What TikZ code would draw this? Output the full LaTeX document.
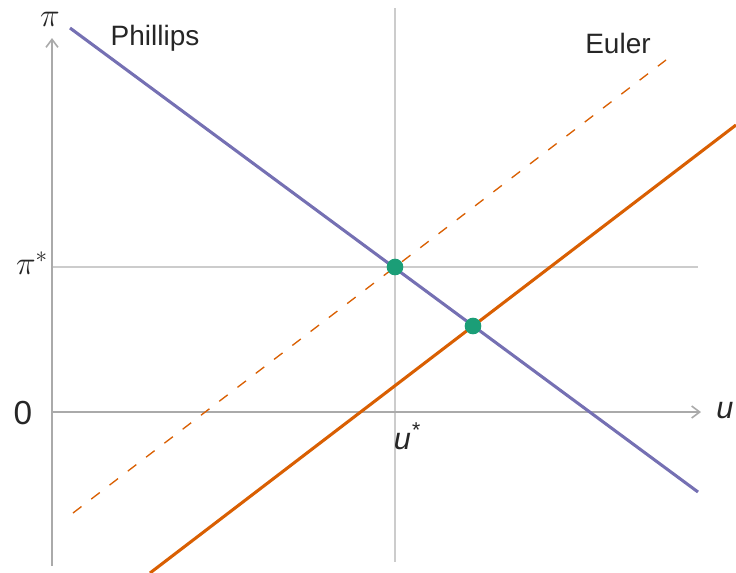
\documentclass[tikz,border=0pt]{standalone}
\usepackage{fontspec}
\setmainfont{Liberation Sans}
\usetikzlibrary{arrows.meta}
\definecolor{phil}{HTML}{7570B3}
\definecolor{eul}{HTML}{D95F02}
\definecolor{eq}{HTML}{1B9E77}
\definecolor{axisgray}{HTML}{AAAAAA}
\definecolor{guide}{HTML}{CCCCCC}
\begin{document}
\begin{tikzpicture}[x=0.75pt,y=-0.75pt,
  axisline/.style={draw=axisgray,line width=1.4pt,-{Straight Barb[length=6pt,width=9pt,line width=1.2pt]}},
  guideline/.style={draw=guide,line width=0.9pt},
  philline/.style={draw=phil,line width=2.3pt},
  eulline/.style={draw=eul,line width=2.3pt},
  euldash/.style={draw=eul,line width=1pt,dash pattern=on 8pt off 9.25pt},
  eqdot/.style={circle,fill=eq,inner sep=0pt,minimum size=12.5pt},
  lab/.style={font=\fontsize{21}{25}\selectfont,text=black!85,inner sep=0pt},
  biglab/.style={font=\fontsize{23}{27}\selectfont,text=black!85,inner sep=0pt}]
\useasboundingbox (0,0) rectangle (736,572);
% coordinates
\coordinate (yb) at (52,566);
\coordinate (yt) at (52,38);
\coordinate (xl) at (52,412);
\coordinate (xr) at (701,412);
\coordinate (hl) at (52,267);
\coordinate (hr) at (698,267);
\coordinate (vt) at (395,8);
\coordinate (vb) at (395,562);
\coordinate (p1) at (70,28);
\coordinate (p2) at (698,492);
\coordinate (e1) at (150,573);
\coordinate (e2) at (736,125);
\coordinate (d1) at (73,513);
\coordinate (d2) at (666,60);
% guides
\draw[guideline] (hl) -- (hr);
\draw[guideline] (vt) -- (vb);
% axes
\draw[axisline] (xl) -- (xr);
\draw[axisline] (yb) -- (yt);
% curves
\draw[euldash] (d1) -- (d2);
\draw[eulline] (e1) -- (e2);
\draw[philline] (p1) -- (p2);
% equilibria
\node[eqdot] (eq1) at (395,267) {};
\node[eqdot] (eq2) at (473,326) {};
% labels
\node[biglab,font=\fontsize{25}{29}\selectfont] (pi) at (50,19) {$\pi$};
\node[biglab] (pistar) at (32,263) {$\pi^{*}$};
\node[biglab,font=\fontsize{25}{29}\selectfont] (zero) at (23,413) {0};
\node[biglab] (ulab) at (725,411) {\itshape u};
\node[biglab] (ustar) at (407,436) {\itshape u\textsuperscript{*}};
\node[lab] (phillips) at (155,38) {Phillips};
\node[lab] (euler) at (618,43) {Euler};
\end{tikzpicture}
\end{document}
